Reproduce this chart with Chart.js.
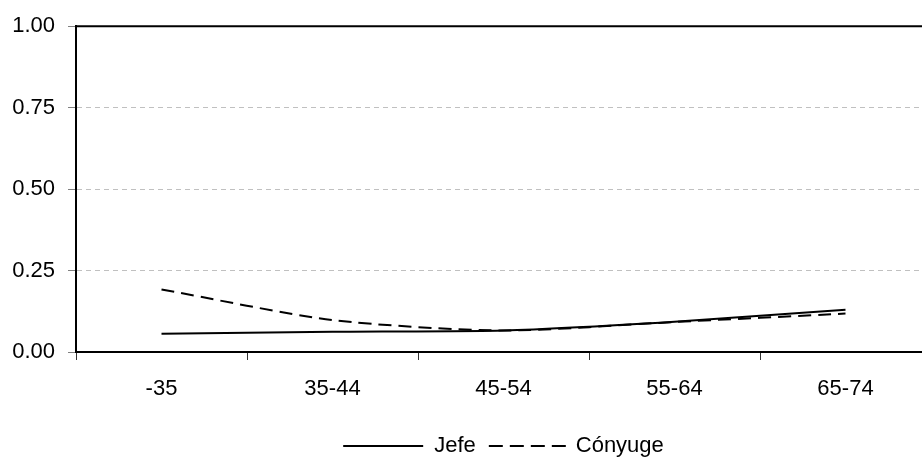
<!DOCTYPE html>
<html lang="es">
<head>
  <meta charset="UTF-8">
  <title>Jefe y Cónyuge por edad</title>
  <script src="https://cdn.jsdelivr.net/npm/chart.js"></script>
  <style>
    body { margin: 0; overflow: hidden; background: #fff; }
    #wrap { width: 940px; height: 467px; }
  </style>
</head>
<body>

<div id="wrap"><canvas id="chart" width="940" height="467"></canvas></div>

<script>
const ageGroups = ['-35', '35-44', '45-54', '55-64', '65-74'];
const jefe = [0.056, 0.062, 0.066, 0.093, 0.130];
const conyuge = [0.192, 0.098, 0.066, 0.092, 0.118];

// legend swatches: long solid / dashed strokes like the Excel original
function swatch(dash, from, to) {
  const c = document.createElement('canvas');
  c.width = 88; c.height = 4;
  const g = c.getContext('2d');
  g.strokeStyle = '#000';
  g.lineWidth = 2;
  g.setLineDash(dash);
  g.beginPath();
  g.moveTo(from, 2);
  g.lineTo(to, 2);
  g.stroke();
  return c;
}

// frame line along the top of the plot area
const topBorder = {
  id: 'topBorder',
  afterDraw(chart) {
    const a = chart.chartArea, ctx = chart.ctx;
    ctx.save();
    ctx.strokeStyle = '#000';
    ctx.lineWidth = 2;
    ctx.beginPath();
    ctx.moveTo(a.left, a.top);
    ctx.lineTo(a.right + 1, a.top);
    ctx.stroke();
    ctx.restore();
  }
};

const font = { family: 'Arial, "Liberation Sans", sans-serif', size: 22 };

new Chart(document.getElementById('chart').getContext('2d'), {
  type: 'line',
  data: {
    labels: ageGroups,
    datasets: [
      { label: 'Jefe', data: jefe, borderColor: '#000', borderWidth: 2, pointRadius: 0,
        pointStyle: swatch([], 4, 84), tension: 0.2, fill: false },
      { label: 'Cónyuge', data: conyuge, borderColor: '#000', borderWidth: 2, borderDash: [13, 7], pointRadius: 0,
        pointStyle: swatch([14, 7], 8, 85), tension: 0.25, fill: false }
    ]
  },
  options: {
    responsive: false,
    animation: false,
    layout: { padding: { top: 25, left: 0, right: 9, bottom: 0 } },
    plugins: {
      title: { display: false },
      tooltip: { enabled: false },
      legend: {
        position: 'bottom',
        fullSize: false,
        labels: {
          usePointStyle: true,
          pointStyleWidth: 80,
          color: '#000',
          font: font,
          padding: 9
        }
      }
    },
    scales: {
      x: {
        offset: true,
        grid: { offset: true, drawOnChartArea: false, tickLength: 8, tickColor: '#333', tickWidth: 1 },
        border: { color: '#000', width: 2 },
        ticks: { color: '#000', font: font, padding: 16, maxRotation: 0 },
        afterFit: s => { s.height = 74; }
      },
      y: {
        min: 0,
        max: 1,
        grid: {
          color: c => (c.tick && (c.tick.value === 0 || c.tick.value === 1)) ? 'rgba(0,0,0,0)' : '#c0c0c0',
          lineWidth: 1,
          tickLength: 8,
          tickColor: '#808080',
          tickWidth: 1
        },
        border: { color: '#000', width: 2, dash: [5, 4] },
        ticks: { stepSize: 0.25, color: '#000', font: font, padding: 13, callback: v => v.toFixed(2) },
        afterFit: s => { s.width = 76; }
      }
    }
  },
  plugins: [topBorder]
});
</script>

</body>
</html>
